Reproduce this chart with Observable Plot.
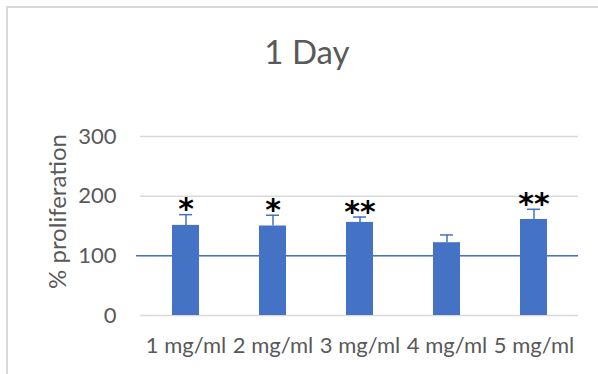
<!DOCTYPE html>
<html>
<head>
<meta charset="utf-8">
<script src="https://cdn.jsdelivr.net/npm/d3@7"></script>
<script src="https://cdn.jsdelivr.net/npm/@observablehq/plot@0.6"></script>
<style>
  html, body { margin: 0; padding: 0; background: #fff; overflow: hidden; }
  #wrap { position: relative; width: 598px; height: 374px; overflow: hidden; background: #fff; }
  #frame { position: absolute; left: 6px; top: 6px; width: 640px; height: 420px;
           border-left: 2px solid #d9d9d9; border-top: 2px solid #d9d9d9; }
  #title { position: relative; height: 95px; box-sizing: border-box; padding-top: 35px; padding-left: 16px;
           text-align: center; font-family: Lato, "Liberation Sans", sans-serif; font-size: 33px;
           line-height: 1; color: #595959; }
  #chart { position: relative; }
  #chart svg { overflow: visible; }
</style>
</head>
<body>
<div id="wrap">
  <div id="frame"></div>
  <div id="title">1 Day</div>
  <div id="chart"></div>
</div>
<script>
const categories = ["1 mg/ml", "2 mg/ml", "3 mg/ml", "4 mg/ml", "5 mg/ml"];
const means = [151, 150, 156, 122, 161];
const errorUp = [18, 18, 9, 13, 17];
const stars = ["*", "*", "**", "", "**"];
const yTicks = [0, 100, 200, 300];
const controlLevel = [100];
const yTitle = ["% proliferation"];

const data = categories.map((c, i) => ({
  c, m: means[i], hi: means[i] + errorUp[i], s: stars[i]
}));

const blue = "#4472C4";

const chart = Plot.plot({
  width: 598,
  height: 279,
  marginTop: 41,
  marginBottom: 59,
  marginLeft: 140,
  marginRight: 20,
  style: { fontFamily: "Lato, 'Liberation Sans', sans-serif", fontSize: "22px", color: "#595959", background: "transparent", overflow: "visible" },
  x: { domain: categories, paddingInner: 0.69, paddingOuter: 0.345, label: null, tickSize: 0, tickPadding: 22 },
  y: { domain: [0, 300], ticks: yTicks, label: null, tickSize: 0, tickPadding: 24 },
  marks: [
    Plot.ruleY(yTicks, { stroke: "#d9d9d9", strokeWidth: 1.5 }),
    Plot.ruleY(controlLevel, { stroke: blue, strokeWidth: 1.5, insetLeft: -4 }),
    Plot.barY(data, { x: "c", y: "m", fill: blue }),
    Plot.ruleX(data, { x: "c", y1: "m", y2: "hi", stroke: blue, strokeWidth: 1.5 }),
    Plot.tickY(data, { x: "c", y: "hi", stroke: blue, strokeWidth: 1.5, insetLeft: 7, insetRight: 7 }),
    Plot.text(data, { x: "c", y: "hi", text: "s", dy: -5, fontSize: 30, fontWeight: "bold",
      fontFamily: "'DejaVu Sans', sans-serif", fill: "black", letterSpacing: "3px" }),
    Plot.text(yTitle, { text: d => d, frameAnchor: "left", textAnchor: "middle", rotate: -90, dx: -82, dy: -14.5,
      fontSize: 24, fill: "#595959" })
  ]
});
document.getElementById("chart").appendChild(chart);
</script>
</body>
</html>
